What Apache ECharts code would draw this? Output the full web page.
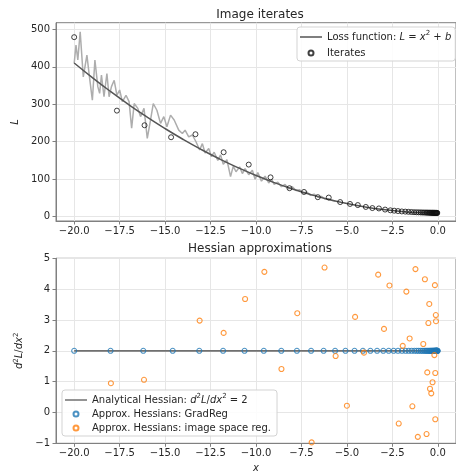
<!DOCTYPE html>
<html>
<head>
<meta charset="utf-8">
<script src="https://cdn.jsdelivr.net/npm/echarts@6/dist/echarts.min.js"></script>
<style>
html, body { margin: 0; padding: 0; background: #fff; }
#main { width: 456px; height: 475px; }
</style>
</head>
<body>
<div id="main"></div>
<script>
// tick labels
const xTicks = [-20, -17.5, -15, -12.5, -10, -7.5, -5, -2.5, 0];
const lossTicks = [0, 100, 200, 300, 400, 500];
const hessTicks = [-1, 0, 1, 2, 3, 4, 5];

// loss function L = x^2 + b
const lossX = [-20, -19, -18, -17, -16, -15, -14, -13, -12, -11, -10, -9, -8, -7, -6, -5, -4, -3, -2, -1, 0];
const lossY = [410, 371, 334, 299, 266, 235, 206, 179, 154, 131, 110, 91, 74, 59, 46, 35, 26, 19, 14, 11, 10];

// noisy grey trace
const noisyX = [-20.0, -19.9, -19.8, -19.67, -19.5, -19.4, -19.3, -19.15, -19.0, -18.86,
  -18.7, -18.6, -18.5, -18.36, -18.2, -18.08, -17.95, -17.8, -17.65, -17.5,
  -17.35, -17.15, -16.98, -16.84, -16.7, -16.5, -16.35, -16.16, -15.98, -15.8,
  -15.65, -15.45, -15.25, -15.07, -14.9, -14.7, -14.5, -14.25, -14.05, -13.9,
  -13.7, -13.5, -13.3, -13.1, -12.95, -12.8, -12.6, -12.45, -12.3, -12.1,
  -11.95, -11.8, -11.6, -11.4, -11.25, -11.1, -10.9, -10.75, -10.6, -10.4,
  -10.2, -10.05, -9.9, -9.7, -9.5, -9.3, -9.15, -9.0, -8.8, -8.6,
  -8.4, -8.2, -8.0, -7.8, -7.6, -7.4, -7.2, -7.0, -6.8, -6.6,
  -6.4, -6.2, -6.0, -5.8, -5.65];
const noisyY = [409, 458, 418, 493, 373, 373, 431, 369, 311, 418,
  347, 329, 378, 320, 382, 320, 347, 364, 324, 338,
  307, 324, 307, 236, 302, 289, 267, 289, 209, 258,
  302, 284, 249, 267, 240, 271, 258, 231, 222, 231,
  213, 218, 200, 178, 195, 170, 182, 160, 172, 150,
  165, 140, 152, 107, 135, 120, 133, 115, 128, 112,
  124, 100, 118, 95, 108, 90, 100, 86, 92, 80,
  86, 74, 80, 70, 72, 63, 66, 57, 60, 52,
  54, 47, 48, 43, 42];

// image iterates
const iterX = [-20, -17.65, -16.13, -14.67, -13.33, -11.78, -10.4, -9.2, -8.16, -7.36,
  -6.6, -6.0, -5.37, -4.83, -4.4, -3.96, -3.6, -3.24, -2.9, -2.61,
  -2.4, -2.19, -1.98, -1.79, -1.62, -1.46, -1.31, -1.18, -1.06, -0.95,
  -0.86, -0.77, -0.69, -0.62, -0.56, -0.5, -0.45, -0.41, -0.37, -0.33,
  -0.3, -0.27, -0.24, -0.22, -0.19, -0.17, -0.15, -0.13, -0.11, -0.09,
  -0.07, -0.05, -0.03];
const iterY = [479, 283, 244, 212, 220, 172, 139, 105, 76, 66,
  52, 51, 39, 34, 31, 26, 23, 22, 19, 17,
  16, 15, 14, 13.5, 13, 12.5, 12, 11.8, 11.6, 11.4,
  11.2, 11.1, 11, 10.9, 10.8, 10.7, 10.6, 10.6, 10.5, 10.5,
  10.4, 10.4, 10.3, 10.3, 10.3, 10.2, 10.2, 10.2, 10.1, 10.1,
  10.1, 10.1, 10.0];

// analytical hessian
const analyticX = [-20, 0];
const analyticY = [2, 2];

// GradReg hessians
const gradRegX = [-20, -18, -16.2, -14.58, -13.12, -11.81, -10.63, -9.57, -8.61, -7.75,
  -6.97, -6.28, -5.65, -5.08, -4.58, -4.12, -3.71, -3.34, -3.0, -2.7,
  -2.43, -2.19, -1.97, -1.77, -1.6, -1.44, -1.29, -1.16, -1.05, -0.94,
  -0.85, -0.76, -0.69, -0.62, -0.56, -0.5, -0.45, -0.41, -0.37, -0.33,
  -0.3, -0.27, -0.24, -0.22, -0.19, -0.17, -0.16, -0.14, -0.13, -0.11,
  -0.1, -0.09, -0.08, -0.07, -0.06, -0.05, -0.04, -0.03, -0.02, -0.01];
const gradRegY = [2, 2, 2, 2, 2, 2, 2, 2, 2, 2,
  2, 2, 2, 2, 2, 2, 2, 2, 2, 2,
  2, 2, 2, 2, 2, 2, 2, 2, 2, 2,
  2, 2, 2, 2, 2, 2, 2, 2, 2, 2,
  2, 2, 2, 2, 2, 2, 2, 2, 2, 2,
  2, 2, 2, 2, 2, 2, 2, 2, 2, 2];

// image space reg hessians
const imgRegX = [-17.98, -16.16, -13.1, -11.78, -10.6, -9.54, -8.6, -7.73, -6.94, -6.23,
  -5.62, -5.0, -4.55, -4.06, -3.28, -2.96, -2.66, -2.15, -1.93, -1.73,
  -1.55, -1.4, -1.23, -1.1, -0.8, -0.71, -0.62, -0.58, -0.52, -0.47,
  -0.43, -0.36, -0.29, -0.19, -0.16, -0.14, -0.14, -0.11, -0.1];
const imgRegY = [0.95, 1.06, 2.98, 2.58, 3.68, 4.56, 1.41, 3.22, -0.97, 4.7,
  1.83, 0.22, 3.1, 1.94, 4.47, 2.71, 4.12, -0.36, 2.16, 3.92,
  2.4, 0.2, 4.65, -0.79, 2.22, 4.32, -0.7, 1.3, 2.9, 3.52,
  0.77, 0.62, 0.98, 1.86, 4.13, 1.28, -0.22, 3.16, 2.96];

const FONT = 'DejaVu Sans';
const TXT = '#262626';
const SPINE = '#808080';
// thin bar used as the legend handle for line series
const LINE_ICON = 'path://M0,0h22v1.5h-22z';

const zip = (xs, ys) => xs.map((x, i) => [x, ys[i]]);
const minus = (v, d) => (v < 0 ? '\u2212' : '') + Math.abs(v).toFixed(d);

const rich = {
    n: { fontSize: 10, fontFamily: FONT, color: TXT },
    i: { fontSize: 10, fontFamily: FONT, fontStyle: 'italic', color: TXT },
    sup: { fontSize: 7, fontFamily: FONT, color: TXT, padding: [0, 0, 7, 0] }
};

const legendNames = {
    'Loss function': '{n|Loss function: }{i|L}{n| = }{i|x}{sup|2}{n| + }{i|b}',
    'Iterates': '{n|Iterates}',
    'Analytical': '{n|Analytical Hessian: }{i|d}{sup|2}{i|L}{n|/}{i|dx}{sup|2}{n| = 2}',
    'GradReg': '{n|Approx. Hessians: GradReg}',
    'ImageReg': '{n|Approx. Hessians: image space reg.}'
};

function makeX(gi, showName) {
    return {
        type: 'value', gridIndex: gi, min: -21, max: 1,
        name: showName ? 'x' : '',
        nameLocation: 'middle', nameGap: 20,
        nameTextStyle: { fontSize: 10, fontFamily: FONT, fontStyle: 'italic', color: TXT },
        axisLine: { show: true, onZero: false, lineStyle: { color: SPINE, width: 1 } },
        axisTick: { show: true, inside: false, length: 3.5, customValues: xTicks, lineStyle: { color: SPINE } },
        axisLabel: { customValues: xTicks, margin: 5, fontSize: 10, fontFamily: FONT, color: TXT,
            formatter: v => minus(v, 1) },
        splitLine: { show: true, lineStyle: { color: '#e6e6e6', width: 1 } }
    };
}

const legendBase = {
    orient: 'vertical',
    itemWidth: 22, itemHeight: 5,
    borderColor: '#d3d3d3', borderWidth: 1, borderRadius: 3,
    backgroundColor: 'rgba(255,255,255,0.85)',
    selectedMode: false,
    textStyle: { fontSize: 10, fontFamily: FONT, color: TXT, rich: rich },
    formatter: name => legendNames[name]
};

const option = {
    animation: false,
    backgroundColor: '#fff',
    title: [
        { text: 'Image iterates', left: 255, top: 4, textAlign: 'center',
          textStyle: { fontSize: 12, fontWeight: 'normal', fontFamily: FONT, color: TXT } },
        { text: 'Hessian approximations', left: 255, top: 238, textAlign: 'center',
          textStyle: { fontSize: 12, fontWeight: 'normal', fontFamily: FONT, color: TXT } }
    ],
    grid: [
        { left: 56, top: 22.7, width: 403, height: 198.3, show: true, borderColor: SPINE, borderWidth: 1 },
        { left: 56, top: 258.3, width: 403, height: 185, show: true, borderColor: SPINE, borderWidth: 1 }
    ],
    xAxis: [makeX(0, false), makeX(1, true)],
    yAxis: [
        {
            type: 'value', gridIndex: 0, min: -11.5, max: 517.6,
            name: 'L', nameLocation: 'middle', nameGap: 31, nameRotate: 90,
            nameTextStyle: { fontSize: 10, fontFamily: FONT, fontStyle: 'italic', color: TXT },
            axisLine: { show: true, onZero: false, lineStyle: { color: SPINE } },
            axisTick: { show: true, length: 3.5, customValues: lossTicks, lineStyle: { color: SPINE } },
            axisLabel: { customValues: lossTicks, margin: 6, fontSize: 10, fontFamily: FONT, color: TXT },
            splitLine: { show: true, lineStyle: { color: '#e6e6e6', width: 1 } }
        },
        {
            type: 'value', gridIndex: 1, min: -1, max: 5,
            name: '{i|d}{sup|2}{i|L}{n|/}{i|dx}{sup|2}', nameLocation: 'middle', nameGap: 27, nameRotate: 90,
            nameTextStyle: { rich: rich },
            axisLine: { show: true, onZero: false, lineStyle: { color: SPINE } },
            axisTick: { show: true, length: 3.5, customValues: hessTicks, lineStyle: { color: SPINE } },
            axisLabel: { customValues: hessTicks, margin: 6, fontSize: 10, fontFamily: FONT, color: TXT,
                formatter: v => minus(v, 0) },
            splitLine: { show: true, lineStyle: { color: '#e6e6e6', width: 1 } }
        }
    ],
    legend: [
        Object.assign({}, legendBase, {
            data: [
                { name: 'Loss function', icon: LINE_ICON },
                { name: 'Iterates' }
            ],
            left: 297, top: 27, itemGap: 6, padding: [3, 4, 3, 3]
        }),
        Object.assign({}, legendBase, {
            data: [
                { name: 'Analytical', icon: LINE_ICON },
                { name: 'GradReg' },
                { name: 'ImageReg' }
            ],
            left: 62, top: 390, itemGap: 4, padding: [3, 6, 3, 3]
        })
    ],
    series: [
        {
            name: 'noisy', type: 'line', xAxisIndex: 0, yAxisIndex: 0,
            data: zip(noisyX, noisyY), symbol: 'none',
            lineStyle: { color: '#adadad', width: 1.5 }, z: 1
        },
        {
            name: 'Loss function', type: 'line', xAxisIndex: 0, yAxisIndex: 0,
            data: zip(lossX, lossY), symbol: 'none', smooth: true,
            itemStyle: { color: '#555' },
            lineStyle: { color: '#555', width: 1.5 }, z: 2
        },
        {
            name: 'Iterates', type: 'scatter', xAxisIndex: 0, yAxisIndex: 0,
            data: zip(iterX, iterY), symbol: 'circle', symbolSize: 5,
            itemStyle: { color: 'rgba(255,255,255,0)', borderColor: '#111', borderWidth: 1 }, z: 3
        },
        {
            name: 'Analytical', type: 'line', xAxisIndex: 1, yAxisIndex: 1,
            data: zip(analyticX, analyticY), symbol: 'none',
            itemStyle: { color: '#707070' },
            lineStyle: { color: '#707070', width: 1.8 }, z: 2
        },
        {
            name: 'GradReg', type: 'scatter', xAxisIndex: 1, yAxisIndex: 1,
            data: zip(gradRegX, gradRegY), symbol: 'circle', symbolSize: 5,
            itemStyle: { color: 'rgba(255,255,255,0)', borderColor: '#1f77b4', borderWidth: 1.1 }, z: 3
        },
        {
            name: 'ImageReg', type: 'scatter', xAxisIndex: 1, yAxisIndex: 1,
            data: zip(imgRegX, imgRegY), symbol: 'circle', symbolSize: 5,
            itemStyle: { color: 'rgba(255,255,255,0)', borderColor: '#ff7f0e', borderWidth: 1.1 }, z: 4
        }
    ]
};

const chart = echarts.init(document.getElementById('main'), null, { renderer: 'canvas' });
chart.setOption(option);
</script>
</body>
</html>
